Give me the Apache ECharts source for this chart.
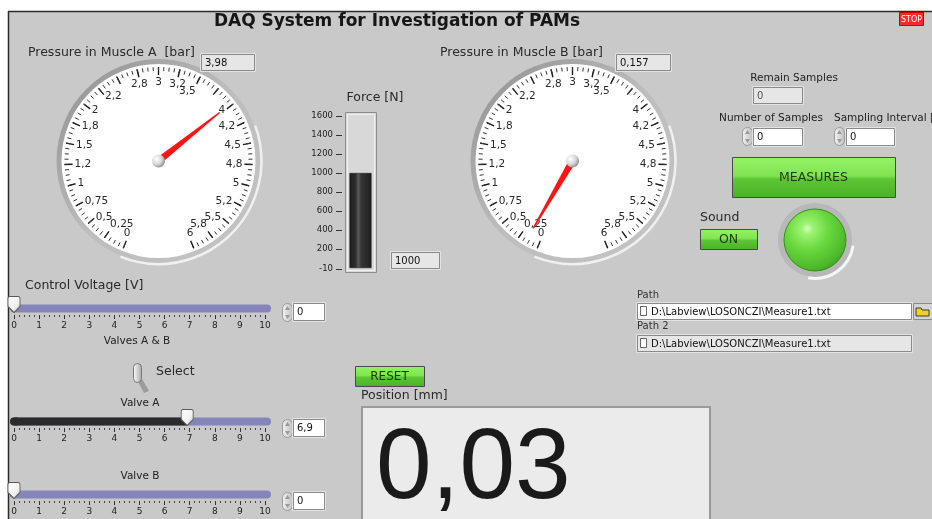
<!DOCTYPE html>
<html><head><meta charset="utf-8">
<script src="https://cdn.jsdelivr.net/npm/echarts@6/dist/echarts.min.js"></script>
<style>html,body{margin:0;padding:0;background:#fff}#c{width:932px;height:519px}</style>
</head><body><div id="c"></div><script>
// ---------------- data ----------------
const title = 'DAQ System for Investigation of PAMs';
const gaugeNames = ['Pressure in Muscle A  [bar]', 'Pressure in Muscle B [bar]'];
const gaugeValues = [3.98, 0.157];
const gaugeDisplay = ['3,98', '0,157'];
const gaugeMin = 0, gaugeMax = 6, gaugeSplits = 24;
const gaugeTickLabels = ['0','0,25','0,5','0,75','1','1,2','1,5','1,8','2','2,2','','2,8','3','3,2','3,5','','4','4,2','4,5','4,8','5','5,2','5,5','5,8','6'];
const forceCategories = ['Force [N]'];
const forceValues = [1000];
const forceDisplay = '1000';
const forceTicks = [-10, 200, 400, 600, 800, 1000, 1200, 1400, 1600];
const sliderNames = ['Control Voltage [V]', 'Valve A', 'Valve B'];
const sliderValues = [0, 6.9, 0];
const sliderDisplay = ['0', '6,9', '0'];
const sliderMin = 0, sliderMax = 10;
const remainSamples = '0', numberOfSamples = '0', samplingInterval = '0';
const positionText = '0,03';
const pathText = 'D:\\Labview\\LOSONCZI\\Measure1.txt';

// ---------------- helpers ----------------
const FONTNAME = 'DejaVu Sans';
const FONT = '"DejaVu Sans", sans-serif';
const G = [];
function fnt(size, weight){ return (weight ? weight + ' ' : '') + size + 'px ' + FONT; }
function rect(x,y,w,h,fill,stroke,o){ o=o||{}; G.push({type:'rect', z:(o.z!=null?o.z:1), shape:{x:x,y:y,width:w,height:h,r:o.r||0}, style:{fill:fill||null, stroke:stroke||null, lineWidth:o.lw||1}}); }
function circ(cx,cy,r,fill,stroke,o){ o=o||{}; G.push({type:'circle', z:(o.z!=null?o.z:1), shape:{cx:cx,cy:cy,r:r}, style:{fill:fill||null, stroke:stroke||null, lineWidth:o.lw||1}}); }
function line(x1,y1,x2,y2,stroke,lw,z){ G.push({type:'line', z:(z!=null?z:2), shape:{x1:x1,y1:y1,x2:x2,y2:y2}, style:{stroke:stroke, lineWidth:lw||1}}); }
function poly(pts,fill,stroke,z){ G.push({type:'polygon', z:(z!=null?z:2), shape:{points:pts}, style:{fill:fill, stroke:stroke||null}}); }
function arc(cx,cy,r,a0,a1,stroke,lw,z){ G.push({type:'arc', z:(z!=null?z:2), shape:{cx:cx,cy:cy,r:r,startAngle:a0,endAngle:a1}, style:{stroke:stroke,lineWidth:lw,fill:null}}); }
function text(x,y,t,size,o){ o=o||{}; G.push({type:'text', z:(o.z!=null?o.z:10), x:x, y:y, style:{text:t, font:fnt(size,o.weight), fill:o.color||'#222', textAlign:o.align||'left', textVerticalAlign:o.va||'middle', align:o.align||'left', verticalAlign:o.va||'middle'}}); }
function vbox(x,y,w,h,t,fill,color){ rect(x-0.5,y-0.5,w+2,h+2,null,'#e2e2e2',{z:3}); rect(x+0.5,y+0.5,w,h,fill,'#8a8a8a',{z:3}); text(x+4,y+h/2+1,t,10,{color:color||'#111'}); }
function spinner(x,y,h){ rect(x+0.5,y+0.5,10,h,{type:'linear',x:0,y:0,x2:1,y2:0,colorStops:[{offset:0,color:'#f4f4f4'},{offset:1,color:'#bdbdbd'}]},'#9a9a9a',{z:3,r:5});
  poly([[x+5.5,y+3],[x+3,y+7],[x+8,y+7]],'#9a9a9a',null,4); poly([[x+5.5,y+h-2],[x+3,y+h-6],[x+8,y+h-6]],'#9a9a9a',null,4); }
const greenGrad = {type:'linear',x:0,y:0,x2:0,y2:1,colorStops:[{offset:0,color:'#96f268'},{offset:0.46,color:'#80e450'},{offset:0.54,color:'#5cc634'},{offset:1,color:'#4bb029'}]};
function gbtn(x,y,w,h,label,size){ rect(x+0.5,y+0.5,w,h,greenGrad,'#4a4a4a',{z:3}); text(x+w/2,y+h/2+1,label,size,{align:'center',color:'#1c3a0a'}); }

// ---------------- panel ----------------
rect(0,0,932,519,'#ffffff',null,{z:0});
rect(8,11,924,508,'#c9c9c9',null,{z:0});
line(8,11.5,932,11.5,'#2a2a2a',1.5,1);
line(8.5,11,8.5,519,'#2a2a2a',1.5,1);
text(397,22,title,17,{weight:'bold',align:'center',color:'#161616'});
rect(899.5,12.5,24,13,'#ff2b2b','#c80000',{z:3});
text(911.5,19.5,'STOP',8,{align:'center',color:'#ffffff'});

// ---------------- gauges decoration ----------------
const gaugeCenters = [[158.5,161],[572.5,161]];
const gaugeTitlePos = [[28,53],[440,53]];
const gaugeBoxPos = [[201,54,53,16],[616,54,54,16]];
for (let i=0;i<2;i++){
  const c = gaugeCenters[i];
  circ(c[0],c[1],102,{type:'linear',x:0,y:0,x2:1,y2:1,colorStops:[{offset:0,color:'#8e8e8e'},{offset:0.5,color:'#bdbdbd'},{offset:1,color:'#c4c4c4'}]},null,{z:1});
  arc(c[0],c[1],103,-0.35,1.95,'#f0f0f0',2.5,1);
  circ(c[0],c[1],97,'#ffffff',null,{z:2});
  text(gaugeTitlePos[i][0],gaugeTitlePos[i][1],gaugeNames[i],12.5,{color:'#2a2a2a'});
  const b = gaugeBoxPos[i];
  vbox(b[0],b[1],b[2],b[3],gaugeDisplay[i],'#e6e6e6');
}

// ---------------- force decoration ----------------
text(375,98,'Force [N]',12.5,{align:'center',color:'#2a2a2a'});
rect(345.5,112.5,31,160,'#d8d8d8','#8c8c8c',{z:1});
rect(347.5,114.5,27,156,null,'#f0f0f0',{z:1});
vbox(391,252,48,16,forceDisplay,'#e6e6e6');

// ---------------- right controls ----------------
text(794,78,'Remain Samples',10.5,{align:'center'});
vbox(753,87,49,16,remainSamples,'#e6e6e6','#555');
text(771,118,'Number of Samples',10.5,{align:'center'});
spinner(742,127,18); vbox(753,128,49,17,numberOfSamples,'#ffffff');
text(834,118,'Sampling Interval [',10.5);
spinner(834,127,18); vbox(846,128,48,17,samplingInterval,'#ffffff');
gbtn(732,157,163,40,'MEASURES',12.5);
text(700,218,'Sound',12.5,{color:'#2a2a2a'});
gbtn(700,229,57,20,'ON',12.5);
// LED
circ(815,240,37,'#b8b8b8',null,{z:2});
arc(815,240,38.5,0.15,1.75,'#f6f6f6',3,3);
circ(815,240,31,{type:'radial',x:0.38,y:0.32,r:0.75,colorStops:[{offset:0,color:'#d6ffbe'},{offset:0.12,color:'#9cf472'},{offset:0.45,color:'#6ad83e'},{offset:0.85,color:'#4cb82a'},{offset:1,color:'#3c9a1e'}]},'#3a8f1c',{z:4});

// ---------------- path ----------------
text(637,295,'Path',10,{color:'#333'});
vbox(637,303,274,16,'',  '#ffffff');
text(651,312,pathText,10,{color:'#111'});
rect(640.5,306.5,6,9,'#ffffff','#666',{z:5});
rect(913.5,303.5,20,16,'#d4d4d4','#8a8a8a',{z:3});
poly([[916,308],[921,308],[922,310],[929,310],[929,316],[916,316]],'#f2d21e','#3a3a3a',5);
text(637,326,'Path 2',10,{color:'#333'});
vbox(637,335,274,16,'','#e6e6e6');
text(651,344,pathText,10,{color:'#111'});
rect(640.5,338.5,6,9,'#ffffff','#666',{z:5});

// ---------------- sliders decoration ----------------
const sliderGridTops = [302, 415, 488];
const sliderBoxY = [303, 419, 492];
text(25,286,sliderNames[0],12.5,{color:'#2a2a2a'});
text(137,341,'Valves A & B',10.5,{align:'center'});
text(140,403,sliderNames[1],10.5,{align:'center'});
text(140,476,sliderNames[2],10.5,{align:'center'});
for (let i=0;i<3;i++){
  const t = sliderGridTops[i];
  rect(10,t+2.5,261,8,'#8585b9',null,{z:1,r:4});
  if (sliderValues[i] > 0) rect(10,t+2.5,8,8,'#2b2b2b',null,{z:2,r:[4,0,0,4]});
  spinner(282,sliderBoxY[i],18);
  vbox(293,sliderBoxY[i],31,17,sliderDisplay[i],'#ffffff');
}
// Select toggle
poly([[136,378],[141,377],[149,391],[144,393]],'#9c9c9c',null,2);
rect(133.5,363.5,8,19,{type:'linear',x:0,y:0,x2:1,y2:0,colorStops:[{offset:0,color:'#ffffff'},{offset:1,color:'#a6a6a6'}]},'#777',{z:3,r:4});
text(156,372,'Select',12.5,{color:'#2a2a2a'});

// ---------------- position ----------------
gbtn(355,366,69,20,'RESET',12);
text(361,396,'Position [mm]',12.5,{color:'#2a2a2a'});
rect(362,407,348,125,'#ebebeb','#9a9a9a',{z:2,lw:2});
text(376,470,positionText,100,{color:'#1a1a1a'});
G[G.length-1].style.font = '100px "Liberation Sans", sans-serif';

// ---------------- series ----------------
function gaugeLabel(v){ const i = Math.round((v-gaugeMin)/((gaugeMax-gaugeMin)/gaugeSplits)); return gaugeTickLabels[i] != null ? gaugeTickLabels[i] : ''; }
function gaugeSeries(i){
  return {
    type:'gauge', z:5, name:gaugeNames[i],
    center:gaugeCenters[i], radius:94,
    startAngle:248, endAngle:-68, min:gaugeMin, max:gaugeMax, splitNumber:gaugeSplits,
    axisLine:{show:false, lineStyle:{width:0}},
    progress:{show:false},
    splitLine:{show:true, length:8, distance:0, lineStyle:{color:'#1a1a1a', width:1.4}},
    axisTick:{show:true, splitNumber:4, length:4, distance:0, lineStyle:{color:'#333', width:1}},
    axisLabel:{show:true, distance:2, color:'#2a2a2a', fontSize:10.5, fontFamily:FONTNAME, formatter:gaugeLabel},
    pointer:{show:true, icon:'path://M2.4,0 L3.6,0 L6,100 L0,100 Z', length:78, width:7, offsetCenter:[0,0], itemStyle:{color:'#ff1414'}},
    anchor:{show:true, showAbove:true, size:13, itemStyle:{color:{type:'radial',x:0.35,y:0.35,r:0.7,colorStops:[{offset:0,color:'#ffffff'},{offset:0.6,color:'#d6d6d6'},{offset:1,color:'#8a8a8a'}]}, borderWidth:0}},
    title:{show:false}, detail:{show:false},
    data:[{value:gaugeValues[i], name:gaugeNames[i]}]
  };
}
const grids = [{left:346, top:116, width:29, height:153}];
const xAxes = [{type:'category', gridIndex:0, data:forceCategories, show:false}];
const yAxes = [{type:'value', gridIndex:0, min:-10, max:1600, position:'left', offset:4,
  axisLine:{show:false}, splitLine:{show:false},
  axisTick:{show:true, length:6, customValues:forceTicks, lineStyle:{color:'#333'}},
  axisLabel:{customValues:forceTicks, fontSize:8.5, color:'#222', margin:9, fontFamily:FONTNAME, formatter:function(v){ return String(v); }}}];
const series = [gaugeSeries(0), gaugeSeries(1), {
  type:'bar', xAxisIndex:0, yAxisIndex:0, z:5, barWidth:22, data:forceValues,
  itemStyle:{color:{type:'linear',x:0,y:0,x2:1,y2:0,colorStops:[{offset:0,color:'#1c1c1c'},{offset:0.28,color:'#2e2e2e'},{offset:0.4,color:'#5a5a5a'},{offset:0.52,color:'#363636'},{offset:1,color:'#1e1e1e'}]}, borderColor:'#111', borderWidth:0.5}
}];
const thumbPath = 'path://M2,0 L10,0 C11.2,0 12,0.8 12,2 L12,10 L6,16 L0,10 L0,2 C0,0.8 0.8,0 2,0 Z';
for (let i=0;i<3;i++){
  grids.push({left:14, top:sliderGridTops[i], width:251, height:13});
  xAxes.push({type:'value', gridIndex:i+1, min:sliderMin, max:sliderMax, interval:1, position:'bottom',
    axisLine:{show:false}, splitLine:{show:false},
    axisTick:{show:true, length:4, lineStyle:{color:'#333'}},
    minorTick:{show:true, splitNumber:5, length:2, lineStyle:{color:'#444'}},
    axisLabel:{fontSize:9, color:'#222', margin:6, fontFamily:FONTNAME}});
  yAxes.push({type:'category', gridIndex:i+1, data:[sliderNames[i]], show:false});
  series.push({type:'bar', xAxisIndex:i+1, yAxisIndex:i+1, z:5, barWidth:8, data:[sliderValues[i]], itemStyle:{color:'#2b2b2b'}});
  series.push({type:'scatter', xAxisIndex:i+1, yAxisIndex:i+1, z:10, symbol:thumbPath, symbolSize:[12,16], symbolOffset:[0,-4],
    data:[[sliderValues[i], sliderNames[i]]],
    itemStyle:{color:{type:'linear',x:0,y:0,x2:1,y2:1,colorStops:[{offset:0,color:'#ffffff'},{offset:0.6,color:'#f2f2f2'},{offset:1,color:'#bcbcbc'}]}, borderColor:'#5a5a5a', borderWidth:1, opacity:1}});
}
const chart = echarts.init(document.getElementById('c'), null, {renderer:'canvas'});
chart.setOption({
  animation:false, backgroundColor:'#ffffff', textStyle:{fontFamily:FONTNAME},
  graphic:{elements:G}, grid:grids, xAxis:xAxes, yAxis:yAxes, series:series
});
</script></body></html>
